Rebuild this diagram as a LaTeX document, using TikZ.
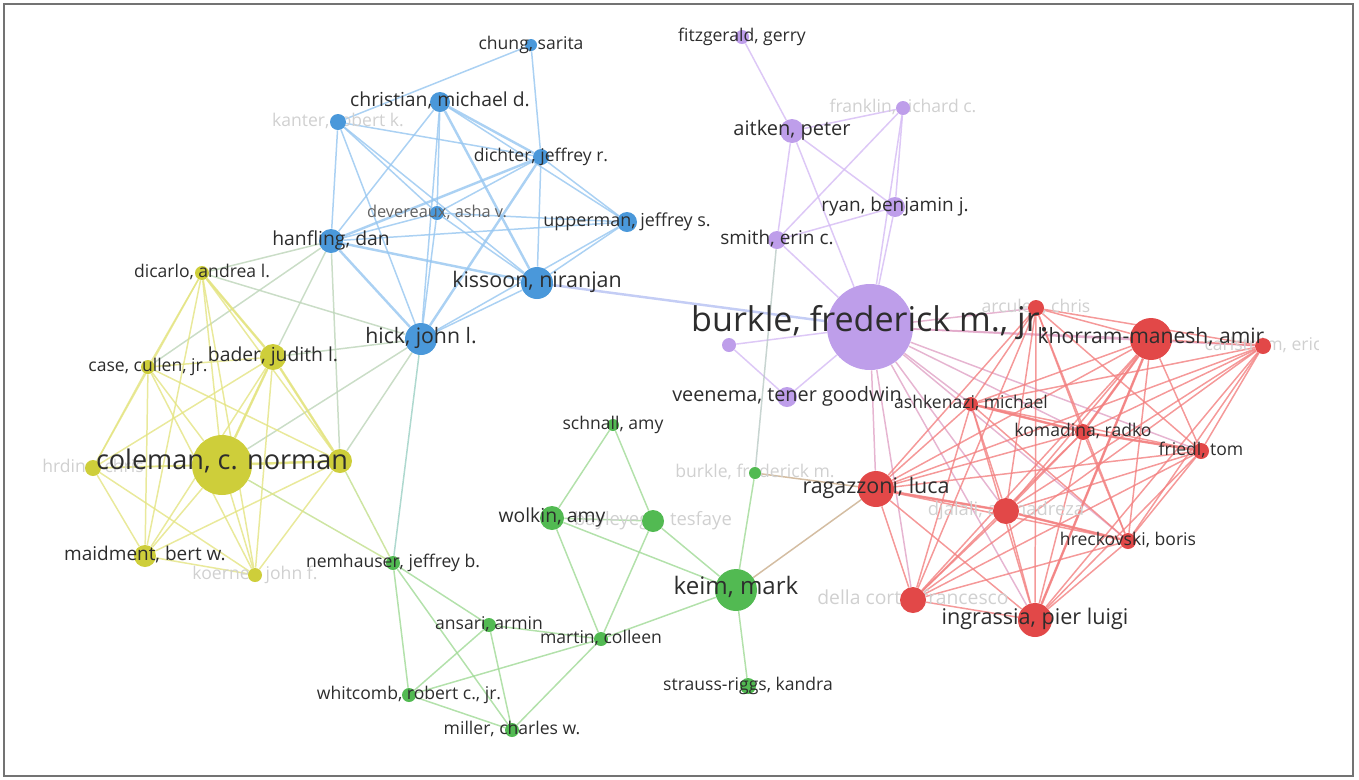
\documentclass[tikz,border=0pt]{standalone}
\usepackage{fontspec}
\setmainfont{Open Sans}
\usepackage{xcolor}
\definecolor{bnode}{RGB}{74,152,218}
\definecolor{pnode}{RGB}{190,158,234}
\definecolor{rnode}{RGB}{226,72,72}
\definecolor{gnode}{RGB}{82,186,82}
\definecolor{ynode}{RGB}{206,206,58}
\definecolor{bline}{RGB}{150,198,240}
\definecolor{pline}{RGB}{212,186,244}
\definecolor{rline}{RGB}{242,128,128}
\definecolor{gline}{RGB}{160,218,150}
\definecolor{yline}{RGB}{228,228,130}
\definecolor{labtext}{RGB}{45,45,45}
\definecolor{ghosttext}{RGB}{208,208,208}
\pgfdeclarelayer{background}
\pgfdeclarelayer{ghost}
\pgfsetlayers{background,ghost,main}

\begin{document}
\begin{tikzpicture}[x=0.02cm,y=-0.02cm]
\tikzset{vertex/.style = {shape=circle, inner sep=0pt, minimum size=#1*0.04cm}}
\tikzset{blue/.style = {vertex=#1, fill=bnode}}
\tikzset{purple/.style = {vertex=#1, fill=pnode}}
\tikzset{red/.style = {vertex=#1, fill=rnode}}
\tikzset{green/.style = {vertex=#1, fill=gnode}}
\tikzset{yellow/.style = {vertex=#1, fill=ynode}}
\tikzset{lab/.style = {font=\fontsize{#1pt}{#1pt}\selectfont, text=labtext, inner sep=0pt, text height=0.72em, text depth=0.2em}}
\tikzset{ghost/.style = {lab=#1, text=ghosttext}}
\tikzset{edge/.style = {line width=0.85pt, draw opacity=0.8}}
\tikzset{wide/.style = {line width=1.4pt}}
\useasboundingbox (0,0) rectangle (1359,779);
\draw[black!55, line width=0.6pt] (4,4) rectangle (1353,776);

% vertices
\node[blue=6] (chung) at (531,45) {};
\node[blue=10] (christian) at (440,102) {};
\node[blue=8] (kanter) at (338,122) {};
\node[blue=8] (dichter) at (541,157) {};
\node[blue=7] (devereaux) at (437,213) {};
\node[blue=10] (upperman) at (627,222) {};
\node[blue=12] (hanfling) at (331,241) {};
\node[blue=16] (kissoon) at (537,283) {};
\node[blue=16] (hick) at (421,339) {};

\node[purple=7] (fitzgerald) at (742,37) {};
\node[purple=7] (franklin) at (903,108) {};
\node[purple=12] (aitken) at (792,131) {};
\node[purple=10] (ryan) at (895,207) {};
\node[purple=9] (smith) at (777,240) {};
\node[purple=43] (burklejr) at (870,327) {};
\node[purple=7] (purplesm) at (729,345) {};
\node[purple=10] (veenema) at (787,397) {};

\node[red=8] (arculeo) at (1036,308) {};
\node[red=21] (khorram) at (1151,339) {};
\node[red=8] (carlstrom) at (1263,346) {};
\node[red=7] (ashkenazi) at (971,404) {};
\node[red=8] (komadina) at (1083,432) {};
\node[red=8] (friedl) at (1201,451) {};
\node[red=18] (ragazzoni) at (876,489) {};
\node[red=13] (djalali) at (1006,511) {};
\node[red=8] (hreckovski) at (1128,541) {};
\node[red=13] (dellacorte) at (913,600) {};
\node[red=17] (ingrassia) at (1035,620) {};

\node[green=6] (schnall) at (613,425) {};
\node[green=6] (burklem) at (755,473) {};
\node[green=12] (wolkin) at (552,518) {};
\node[green=11] (bayleyegn) at (653,521) {};
\node[green=7] (nemhauser) at (393,563) {};
\node[green=21] (keim) at (736,590) {};
\node[green=7] (ansari) at (489,625) {};
\node[green=7] (martin) at (601,639) {};
\node[green=8] (strauss) at (748,686) {};
\node[green=7] (whitcomb) at (409,695) {};
\node[green=7] (miller) at (512,730) {};

\node[yellow=7] (dicarlo) at (202,273) {};
\node[yellow=7] (casec) at (148,367) {};
\node[yellow=13] (bader) at (273,357) {};
\node[yellow=30] (coleman) at (222,465) {};
\node[yellow=8] (hrdina) at (93,468) {};
\node[yellow=12] (yellowr) at (340,461) {};
\node[yellow=11] (maidment) at (145,556) {};
\node[yellow=7] (koerner) at (255,575) {};

% edges
\begin{pgfonlayer}{background}
\foreach \a/\b in {chung/kanter, chung/dichter, dichter/kissoon, kanter/dichter, kanter/hanfling,
  kanter/hick, kanter/kissoon, kanter/devereaux, christian/hanfling, christian/devereaux,
  christian/hick, christian/upperman, dichter/devereaux, dichter/upperman, devereaux/hanfling,
  devereaux/kissoon, devereaux/upperman, devereaux/hick, hanfling/upperman, upperman/kissoon,
  upperman/hick, kissoon/hick}
  \draw[edge, bline] (\a) -- (\b);
\foreach \a/\b in {christian/dichter, christian/kissoon, hanfling/dichter, hanfling/kissoon,
  hick/dichter, hanfling/hick}
  \draw[edge, wide, bline] (\a) -- (\b);
\foreach \a/\b in {hick/bader, hick/dicarlo, hick/coleman, hick/yellowr, hanfling/bader,
  hanfling/dicarlo, hanfling/yellowr, hanfling/casec}
  \draw[edge, bline!50!yline] (\a) -- (\b);
\draw[edge, bline!50!gline] (hick) -- (nemhauser);
\draw[edge, wide, bline!50!pline] (kissoon) -- (burklejr);

\foreach \a/\b in {fitzgerald/aitken, franklin/aitken, franklin/smith, franklin/ryan,
  franklin/burklejr, aitken/smith, aitken/ryan, aitken/burklejr, smith/ryan, smith/burklejr,
  ryan/burklejr, burklejr/purplesm, burklejr/veenema, purplesm/veenema}
  \draw[edge, pline] (\a) -- (\b);
\draw[edge, pline!50!gline] (smith) -- (burklem);
\foreach \b in {arculeo, khorram, carlstrom, ashkenazi, komadina, friedl, ragazzoni, djalali,
  hreckovski, dellacorte, ingrassia}
  \draw[edge, pline!60!rline] (burklejr) -- (\b);

\foreach \a [count=\i] in {arculeo, khorram, carlstrom, ashkenazi, komadina, friedl, ragazzoni,
  djalali, hreckovski, dellacorte, ingrassia}
  \foreach \b [count=\j] in {arculeo, khorram, carlstrom, ashkenazi, komadina, friedl, ragazzoni,
    djalali, hreckovski, dellacorte, ingrassia}
    {\ifnum\j>\i \draw[edge, rline] (\a) -- (\b); \fi}
\foreach \a/\b in {ashkenazi/komadina, komadina/friedl, khorram/komadina, ragazzoni/djalali,
  djalali/hreckovski, ingrassia/khorram}
  \draw[edge, wide, rline] (\a) -- (\b);

\foreach \a/\b in {schnall/wolkin, schnall/bayleyegn, wolkin/bayleyegn, wolkin/keim, wolkin/martin,
  bayleyegn/keim, bayleyegn/martin, keim/burklem, keim/strauss, keim/martin, nemhauser/ansari,
  nemhauser/whitcomb, nemhauser/miller, ansari/martin, ansari/whitcomb, ansari/miller,
  martin/whitcomb, martin/miller, whitcomb/miller}
  \draw[edge, gline] (\a) -- (\b);
\draw[edge, gline!50!rline] (keim) -- (ragazzoni);
\draw[edge, gline!50!rline] (burklem) -- (ragazzoni);
\draw[edge, gline!50!yline] (nemhauser) -- (coleman);
\draw[edge, gline!50!yline] (nemhauser) -- (yellowr);

\foreach \a [count=\i] in {dicarlo, casec, bader, coleman, hrdina, yellowr, maidment, koerner}
  \foreach \b [count=\j] in {dicarlo, casec, bader, coleman, hrdina, yellowr, maidment, koerner}
    {\ifnum\j>\i \draw[edge, yline] (\a) -- (\b); \fi}
\foreach \a/\b in {dicarlo/bader, bader/coleman, bader/yellowr, coleman/yellowr}
  \draw[edge, wide, yline] (\a) -- (\b);
\end{pgfonlayer}

% faded labels
\begin{pgfonlayer}{ghost}
\node[ghost=10] (kanter-t) at (kanter) {kanter, robert k.};
\node[ghost=10] (franklin-t) at (franklin) {franklin, richard c.};
\node[ghost=10] (arculeo-t) at (arculeo) {arculeo, chris};
\begin{scope}
\clip (0,0) rectangle (1318,779);
\node[ghost=10] (carlstrom-t) at (carlstrom) {carlström, eric};
\end{scope}
\node[ghost=10.5] (djalali-t) at (djalali) {djalali, ahmadreza};
\node[ghost=11] (dellacorte-t) at (dellacorte) {della corte, francesco};
\node[ghost=10] (burklem-t) at (burklem) {burkle, frederick m.};
\node[ghost=10.5] (bayleyegn-t) at (bayleyegn) {bayleyegn, tesfaye};
\node[ghost=10] (hrdina-t) at (hrdina) {hrdina, chris};
\node[ghost=10] (koerner-t) at (koerner) {koerner, john f.};
\end{pgfonlayer}

% labels
\node[lab=10] (chung-t) at (chung) {chung, sarita};
\node[lab=11] (christian-t) at (christian) {christian, michael d.};
\node[lab=10] (dichter-t) at (dichter) {dichter, jeffrey r.};
\node[lab=9.3, text=labtext!75] (devereaux-t) at (devereaux) {devereaux, asha v.};
\node[lab=10.2] (upperman-t) at (upperman) {upperman, jeffrey s.};
\node[lab=11] (hanfling-t) at (hanfling) {hanfling, dan};
\node[lab=12.2] (kissoon-t) at (kissoon) {kissoon, niranjan};
\node[lab=12.1] (hick-t) at (hick) {hick, john l.};

\node[lab=10] (fitzgerald-t) at (fitzgerald) {fitzgerald, gerry};
\node[lab=11.4] (aitken-t) at (aitken) {aitken, peter};
\node[lab=10.8] (ryan-t) at (ryan) {ryan, benjamin j.};
\node[lab=10.8] (smith-t) at (smith) {smith, erin c.};
\node[lab=19.4] (burklejr-t) at (burklejr) {burkle, frederick m., jr.};
\node[lab=11.3] (veenema-t) at (veenema) {veenema, tener goodwin};

\node[lab=12] (khorram-t) at (khorram) {khorram-manesh, amir};
\node[lab=10] (ashkenazi-t) at (ashkenazi) {ashkenazi, michael};
\node[lab=10] (komadina-t) at (komadina) {komadina, radko};
\node[lab=10] (friedl-t) at (friedl) {friedl, tom};
\node[lab=12.2] (ragazzoni-t) at (ragazzoni) {ragazzoni, luca};
\node[lab=10] (hreckovski-t) at (hreckovski) {hreckovski, boris};
\node[lab=12.3] (ingrassia-t) at (ingrassia) {ingrassia, pier luigi};

\node[lab=10] (schnall-t) at (schnall) {schnall, amy};
\node[lab=11] (wolkin-t) at (wolkin) {wolkin, amy};
\node[lab=10] (nemhauser-t) at (nemhauser) {nemhauser, jeffrey b.};
\node[lab=13.7] (keim-t) at (keim) {keim, mark};
\node[lab=10] (ansari-t) at (ansari) {ansari, armin};
\node[lab=10] (martin-t) at (martin) {martin, colleen};
\node[lab=10] (strauss-t) at (strauss) {strauss-riggs, kandra};
\node[lab=10] (whitcomb-t) at (whitcomb) {whitcomb, robert c., jr.};
\node[lab=10] (miller-t) at (miller) {miller, charles w.};

\node[lab=10] (dicarlo-t) at (dicarlo) {dicarlo, andrea l.};
\node[lab=10] (casec-t) at (casec) {case, cullen, jr.};
\node[lab=11] (bader-t) at (bader) {bader, judith l.};
\node[lab=15.4] (coleman-t) at (coleman) {coleman, c. norman};
\node[lab=10.8] (maidment-t) at (maidment) {maidment, bert w.};
\end{tikzpicture}
\end{document}
